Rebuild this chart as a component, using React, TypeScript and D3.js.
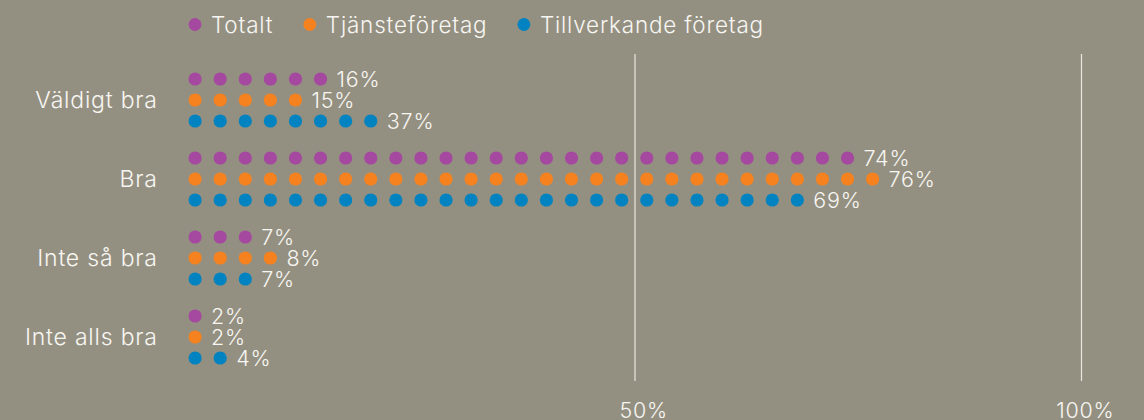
import React, { useEffect, useRef } from "react";
import * as d3 from "d3";

const categories = ["Väldigt bra", "Bra", "Inte så bra", "Inte alls bra"];
const seriesNames = ["Totalt", "Tjänsteföretag", "Tillverkande företag"];
const totaltValues = [16, 74, 7, 2];
const tjansteValues = [15, 76, 8, 2];
const tillverkandeValues = [37, 69, 7, 4];
const totaltDots = [6, 27, 3, 1];
const tjansteDots = [5, 28, 4, 1];
const tillverkandeDots = [8, 25, 3, 2];
const tickValues = [50, 100];

const colors = ["#a5489f", "#f5821f", "#0083c0"];
const BG = "#949081";
const TEXT = "#f7f6f2";
const FONT = "Inter, 'Liberation Sans', Arial, sans-serif";
const WEIGHT = 300;
const LS = 0.8;

export default function App() {
  const ref = useRef<SVGSVGElement | null>(null);

  useEffect(() => {
    document.body.style.margin = "0";
    const svg = d3.select(ref.current);
    svg.selectAll("*").remove();

    const W = 1144, H = 420;
    svg.append("rect").attr("width", W).attr("height", H).attr("fill", BG);

    const x = d3.scaleLinear().domain([0, 100]).range([188.5, 1081.5]);
    const y = d3.scalePoint<string>().domain(categories).range([100, 337]);
    const row = d3.scalePoint<string>().domain(seriesNames).range([-21, 21]);
    const r = 6.6;
    const dotStep = 2.81; // percent per dot spacing

    const txt = (sel: any, size: number) =>
      sel.attr("font-family", FONT).attr("font-size", size).attr("font-weight", WEIGHT)
        .attr("letter-spacing", LS).attr("fill", TEXT);

    // gridlines
    const grid = svg.append("g");
    tickValues.forEach((t) => {
      grid.append("line")
        .attr("x1", x(t)).attr("x2", x(t))
        .attr("y1", 54).attr("y2", 381)
        .attr("stroke", "#e9e7e0").attr("stroke-width", 1.2);
      txt(grid.append("text")
        .attr("x", x(t) + 33).attr("y", 418)
        .attr("text-anchor", "end"), 21.5)
        .text(`${t}%`);
    });

    // legend
    const legend = svg.append("g");
    let lx = 195;
    seriesNames.forEach((s, i) => {
      legend.append("circle").attr("cx", lx).attr("cy", 24.5).attr("r", 6.4).attr("fill", colors[i]);
      const t = txt(legend.append("text")
        .attr("x", lx + 16).attr("y", 32.5), 22.5).text(s);
      const w = (t.node() as SVGTextElement).getComputedTextLength();
      lx = lx + 16 + w + 36.5;
    });

    // category labels
    categories.forEach((c) => {
      txt(svg.append("text")
        .attr("x", 157 + LS).attr("y", (y(c) as number) + 8)
        .attr("text-anchor", "end"), 23).text(c);
    });

    const seriesValues = [totaltValues, tjansteValues, tillverkandeValues];
    const seriesDots = [totaltDots, tjansteDots, tillverkandeDots];

    categories.forEach((c, ci) => {
      seriesNames.forEach((s, si) => {
        const cy = (y(c) as number) + (row(s) as number);
        const n = seriesDots[si][ci];
        const idx = d3.range(n);
        svg.append("g").selectAll("circle").data(idx).join("circle")
          .attr("cx", (i) => x(i * dotStep) + r)
          .attr("cy", cy)
          .attr("r", r)
          .attr("fill", colors[si]);
        txt(svg.append("text")
          .attr("x", x((n - 1) * dotStep) + r + 16)
          .attr("y", cy + 8), 21.5)
          .text(`${seriesValues[si][ci]}%`);
      });
    });
  }, []);

  return (
    <svg ref={ref} width={1144} height={420} style={{ display: "block", position: "absolute", left: 0, top: 0 }} />
  );
}
